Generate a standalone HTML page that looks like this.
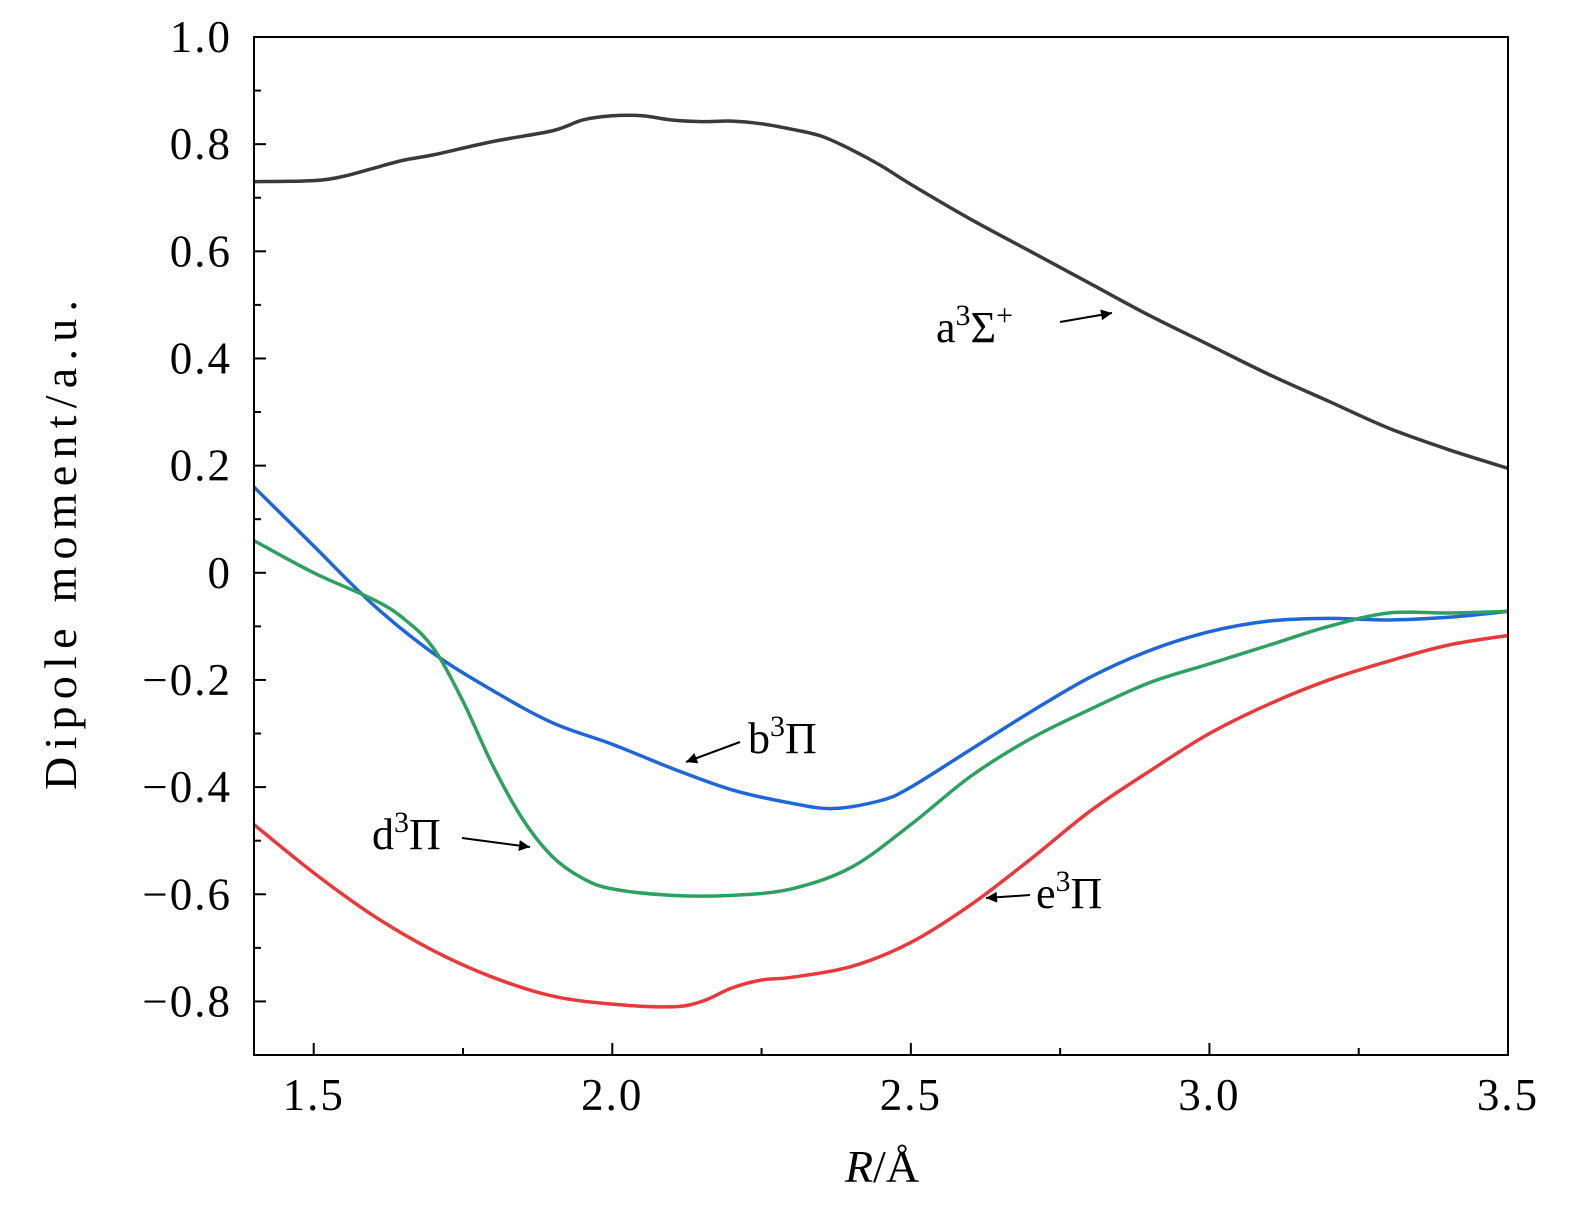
<!DOCTYPE html>
<html><head><meta charset="utf-8"><style>
body{margin:0;background:#fff}
svg{display:block;font-family:"Liberation Serif",serif}
</style></head><body>
<svg id="chart" width="1575" height="1211" viewBox="0 0 1575 1211">
<defs><marker id="ah" viewBox="0 0 10 10" refX="10" refY="5" markerWidth="24" markerHeight="11" orient="auto" markerUnits="userSpaceOnUse"><path d="M0,0 L10,5 L0,10 z" fill="#000"/></marker></defs>
<g id="grid"></g>
<g id="series"></g>
<rect x="254" y="37" width="1254" height="1018" fill="none" stroke="#000" stroke-width="2"/>
<g id="axes"></g>
<text transform="translate(76,545) rotate(-90)" text-anchor="middle" font-size="46" textLength="490" lengthAdjust="spacing">Dipole moment/a.u.</text>
<text x="882" y="1182" text-anchor="middle" font-size="46"><tspan font-style="italic">R</tspan>/Å</text>
<g><text x="936" y="342" font-size="44">a<tspan font-size="30" dy="-17">3</tspan><tspan dy="17">Σ</tspan><tspan font-size="30" dy="-17">+</tspan></text><line x1="1060" y1="322" x2="1112" y2="313" stroke="#000" stroke-width="2" marker-end="url(#ah)"/></g>
<g><text x="748" y="753" font-size="44">b<tspan font-size="30" dy="-17">3</tspan><tspan dy="17">Π</tspan></text><line x1="740" y1="742" x2="686" y2="762" stroke="#000" stroke-width="2" marker-end="url(#ah)"/></g>
<g><text x="372" y="849" font-size="44">d<tspan font-size="30" dy="-17">3</tspan><tspan dy="17">Π</tspan></text><line x1="462" y1="838" x2="530" y2="847" stroke="#000" stroke-width="2" marker-end="url(#ah)"/></g>
<g><text x="1036" y="908" font-size="44">e<tspan font-size="30" dy="-17">3</tspan><tspan dy="17">Π</tspan></text><line x1="1030" y1="895" x2="986" y2="898" stroke="#000" stroke-width="2" marker-end="url(#ah)"/></g>
</svg>
<script>
const xTicks=[1.5,2.0,2.5,3.0,3.5];
const xTickLabels=["1.5","2.0","2.5","3.0","3.5"];
const yTicks=[1.0,0.8,0.6,0.4,0.2,0,-0.2,-0.4,-0.6,-0.8];
const yTickLabels=["1.0","0.8","0.6","0.4","0.2","0","\u22120.2","\u22120.4","\u22120.6","\u22120.8"];
const aR=[1.4,1.5,1.55,1.6,1.65,1.7,1.8,1.9,1.95,2.0,2.05,2.1,2.15,2.2,2.25,2.3,2.35,2.4,2.45,2.5,2.6,2.7,2.8,2.9,3.0,3.1,3.2,3.3,3.4,3.5];
const aVal=[0.73,0.732,0.74,0.755,0.77,0.78,0.805,0.825,0.845,0.853,0.853,0.845,0.842,0.843,0.838,0.828,0.815,0.79,0.76,0.725,0.66,0.6,0.54,0.48,0.425,0.37,0.32,0.27,0.23,0.195];
const bR=[1.4,1.5,1.6,1.7,1.8,1.9,2.0,2.1,2.2,2.3,2.37,2.45,2.5,2.6,2.7,2.8,2.9,3.0,3.1,3.2,3.3,3.4,3.5];
const bVal=[0.16,0.05,-0.06,-0.15,-0.22,-0.28,-0.32,-0.365,-0.405,-0.43,-0.44,-0.425,-0.4,-0.33,-0.26,-0.195,-0.145,-0.11,-0.09,-0.085,-0.088,-0.083,-0.072];
const dR=[1.4,1.5,1.6,1.65,1.7,1.75,1.8,1.85,1.9,1.95,2.0,2.1,2.2,2.3,2.4,2.5,2.6,2.7,2.8,2.9,3.0,3.1,3.2,3.3,3.4,3.5];
const dVal=[0.06,0.0,-0.05,-0.085,-0.14,-0.24,-0.36,-0.46,-0.53,-0.57,-0.59,-0.602,-0.602,-0.59,-0.55,-0.47,-0.38,-0.31,-0.255,-0.205,-0.17,-0.135,-0.1,-0.075,-0.075,-0.072];
const eR=[1.4,1.5,1.6,1.7,1.8,1.9,2.0,2.1,2.15,2.2,2.25,2.3,2.4,2.5,2.6,2.7,2.8,2.9,3.0,3.1,3.2,3.3,3.4,3.5];
const eVal=[-0.47,-0.56,-0.64,-0.705,-0.755,-0.79,-0.805,-0.81,-0.8,-0.775,-0.76,-0.755,-0.735,-0.69,-0.62,-0.535,-0.445,-0.37,-0.3,-0.245,-0.2,-0.165,-0.135,-0.117];
const X0=254,X1=1508,Y0=1055,Y1=37,xmin=1.4,xmax=3.5,ymin=-0.9,ymax=1.0;
const sx=v=>X0+(v-xmin)/(xmax-xmin)*(X1-X0);
const sy=v=>Y0-(v-ymin)/(ymax-ymin)*(Y0-Y1);
const NS="http://www.w3.org/2000/svg";
const axes=document.getElementById('axes'),ser=document.getElementById('series');
function mk(t,a,p){const e=document.createElementNS(NS,t);for(const k in a)e.setAttribute(k,a[k]);p.appendChild(e);return e;}
for(let v=1.5;v<=3.501;v+=0.25){const x=sx(v);const major=Math.abs(v*2-Math.round(v*2))<1e-6;
 const t=mk('line',{x1:x,x2:x,y1:Y0,y2:Y0-(major?12:7),stroke:'#000','stroke-width':2},axes);
 }
xTicks.forEach((v,i)=>{const t=mk('text',{x:sx(v),y:1110,'text-anchor':'middle','font-size':45,'letter-spacing':2},axes);t.textContent=xTickLabels[i];
 });
for(let v=-0.9;v<=1.0001;v+=0.1){const y=sy(v);const major=Math.abs(v*5-Math.round(v*5))<1e-6;
 const t=mk('line',{x1:X0,x2:X0+(major?12:7),y1:y,y2:y,stroke:'#000','stroke-width':2},axes);
 }
yTicks.forEach((v,i)=>{const t=mk('text',{x:232,y:sy(v)+15,'text-anchor':'end','font-size':45,'letter-spacing':2},axes);t.textContent=yTickLabels[i];
 });
function path(xs,ys){const p=xs.map((x,i)=>[sx(x),sy(ys[i])]);let d='M'+p[0][0]+','+p[0][1];
 for(let i=0;i<p.length-1;i++){const p0=p[i-1]||p[i],p1=p[i],p2=p[i+1],p3=p[i+2]||p2;
 d+=' C'+(p1[0]+(p2[0]-p0[0])/6)+','+(p1[1]+(p2[1]-p0[1])/6)+' '+(p2[0]-(p3[0]-p1[0])/6)+','+(p2[1]-(p3[1]-p1[1])/6)+' '+p2[0]+','+p2[1];}return d;}
[[aR,aVal,'#3a3a3a','series-a3sigma'],[bR,bVal,'#1f66d6','series-b3pi'],[dR,dVal,'#2ea060','series-d3pi'],[eR,eVal,'#e83a3a','series-e3pi']].forEach(s=>{
 const e=mk('path',{d:path(s[0],s[1]),fill:'none',stroke:s[2],'stroke-width':3.5},ser);
 });
</script>
</body></html>
